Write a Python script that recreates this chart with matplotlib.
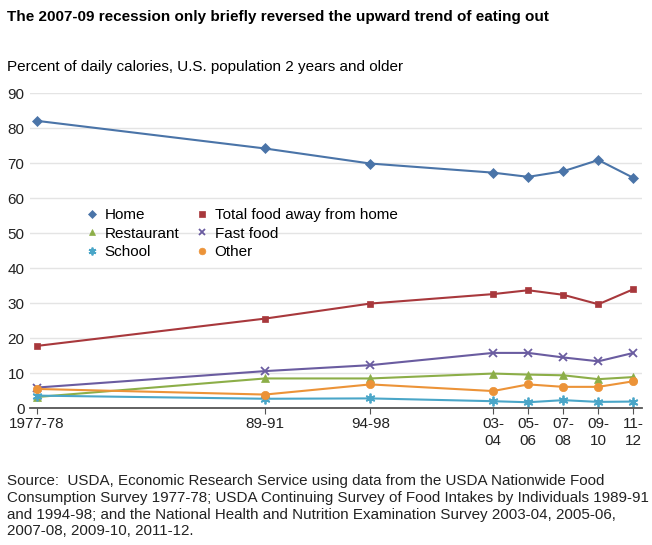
import matplotlib
matplotlib.use("Agg")
import matplotlib.pyplot as plt

plt.rcParams['font.family'] = ['Liberation Sans', 'DejaVu Sans']

# survey periods (plotted at their end year)
periods = ["1977-78", "89-91", "94-98", "03-\n04", "05-\n06", "07-\n08", "09-\n10", "11-\n12"]
years = [1978, 1991, 1997, 2004, 2006, 2008, 2010, 2012]

home = [82.1, 74.2, 69.9, 67.3, 66.1, 67.7, 70.9, 65.8]
total_away = [17.8, 25.6, 29.9, 32.6, 33.7, 32.4, 29.7, 34.0]
restaurant = [3.2, 8.5, 8.5, 9.9, 9.6, 9.4, 8.3, 8.9]
fast_food = [5.9, 10.6, 12.3, 15.8, 15.8, 14.5, 13.4, 15.8]
school = [3.6, 2.7, 2.8, 2.0, 1.7, 2.3, 1.8, 1.9]
other = [5.5, 3.9, 6.8, 4.9, 6.8, 6.1, 6.1, 7.7]

fig = plt.figure(figsize=(6.52, 5.45), dpi=100)
ax = fig.add_axes([0.046, 0.251, 0.939, 0.578])

series = [
    ("Home", home, "#4a74a8", "D", 5),
    ("Total food away from home", total_away, "#a8383c", "s", 5),
    ("Restaurant", restaurant, "#8cae48", "^", 5.5),
    ("Fast food", fast_food, "#6a5ca0", "x", 6),
    ("School", school, "#4aa6c8", (6, 2, 0), 7),
    ("Other", other, "#ec9338", "o", 6),
]
lines = {}
for name, vals, color, marker, ms in series:
    lines[name], = ax.plot(years, vals, color=color, marker=marker, markersize=ms,
                           linewidth=1.5, label=name,
                           markeredgewidth=1.3 if marker in ("x", (6, 2, 0)) else 0.5)

ax.set_xlim(1977.6, 2012.5)
ax.set_ylim(0, 90)
ax.set_yticks(range(0, 91, 10))
ax.yaxis.grid(True, color="#e4e4e4", linewidth=1)
ax.set_axisbelow(True)
ax.set_xticks(years)
ax.set_xticklabels(periods, fontsize=11, color="#222222", linespacing=1.3)
ax.tick_params(axis="y", length=0, labelsize=11, colors="#222222", pad=4)
ax.tick_params(axis="x", length=4, color="#555555", direction="out", pad=2)
for side in ["top", "right", "left"]:
    ax.spines[side].set_visible(False)
ax.spines["bottom"].set_color("#555555")
ax.spines["bottom"].set_linewidth(1.3)

# legend filled column-wise, so order gives rows: Home/Total, Restaurant/Fast food, School/Other
order = ["Home", "Restaurant", "School", "Total food away from home", "Fast food", "Other"]
leg = ax.legend([lines[k] for k in order], order, loc="upper left",
                bbox_to_anchor=(0.077, 0.66), ncol=2, frameon=False,
                fontsize=11, handlelength=0.9, handletextpad=0.4, columnspacing=1.0,
                labelspacing=0.3, borderpad=0, markerscale=0.8)
for h in leg.get_lines():
    h.set_linestyle("none")

fig.text(0.011, 0.968, "The 2007-09 recession only briefly reversed the upward trend of eating out",
         fontsize=11, fontweight="bold", va="center")
fig.text(0.011, 0.877, "Percent of daily calories, U.S. population 2 years and older",
         fontsize=11, va="center")
fig.text(0.011, 0.012,
         "Source:  USDA, Economic Research Service using data from the USDA Nationwide Food\n"
         "Consumption Survey 1977-78; USDA Continuing Survey of Food Intakes by Individuals 1989-91\n"
         "and 1994-98; and the National Health and Nutrition Examination Survey 2003-04, 2005-06,\n"
         "2007-08, 2009-10, 2011-12.",
         fontsize=10.9, va="bottom", linespacing=1.25, color="#222222")

fig.savefig("out.png", dpi=100)
